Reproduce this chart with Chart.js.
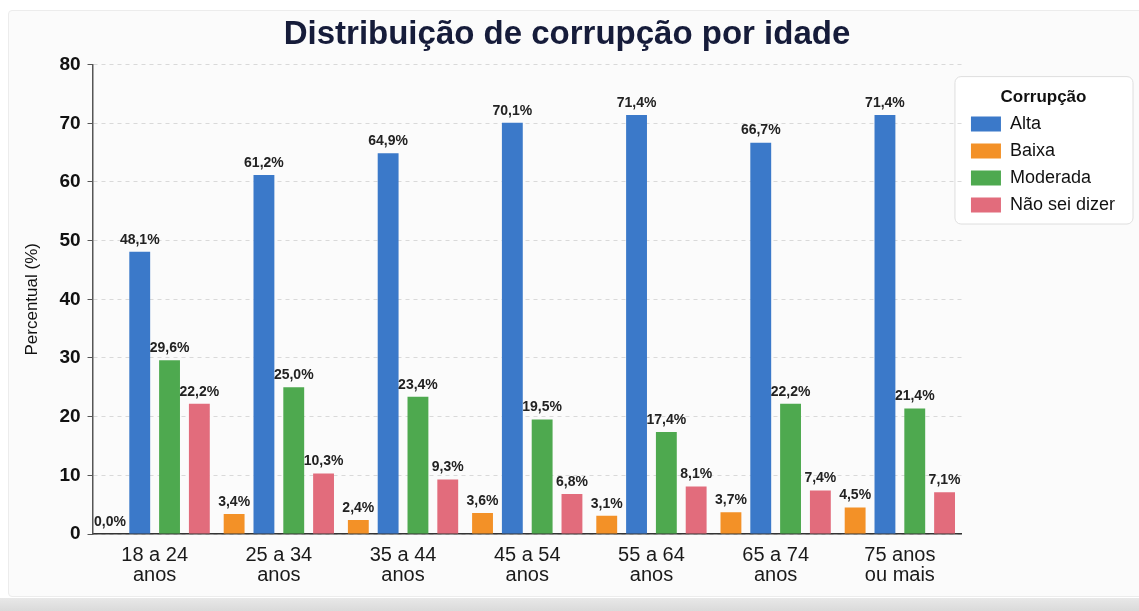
<!DOCTYPE html>
<html>
<head>
<meta charset="utf-8">
<script src="https://cdn.jsdelivr.net/npm/chart.js@4.4.1/dist/chart.umd.min.js"></script>
<style>
  html, body { margin: 0; padding: 0; background: #fff; }
  #wrap { position: relative; width: 1139px; height: 611px; overflow: hidden; }
  #card { position: absolute; left: 8px; top: 10px; width: 1135px; height: 587px;
          background: #fbfbfb; border: 1px solid #ececec; border-radius: 4px; box-sizing: border-box; }
  #shade { position: absolute; left: 0; right: 0; top: 598px; bottom: 0;
           background: linear-gradient(#e8e8e8, #dadada); }
  #grafico { position: absolute; left: 0; top: 0; }
</style>
</head>
<body>
<div id="wrap">
  <div id="card"></div>
  <div id="shade"></div>
  <canvas id="grafico" width="1139" height="611"></canvas>
</div>
<script>
const faixas = [
    ['18 a 24', 'anos'],
    ['25 a 34', 'anos'],
    ['35 a 44', 'anos'],
    ['45 a 54', 'anos'],
    ['55 a 64', 'anos'],
    ['65 a 74', 'anos'],
    ['75 anos', 'ou mais'],
];
const alta = [48.1, 61.2, 64.9, 70.1, 71.4, 66.7, 71.4];
const baixa = [0.0, 3.4, 2.4, 3.6, 3.1, 3.7, 4.5];
const moderada = [29.6, 25.0, 23.4, 19.5, 17.4, 22.2, 21.4];
const naoSei = [22.2, 10.3, 9.3, 6.8, 8.1, 7.4, 7.1];
const ordemLegenda = ['Alta', 'Baixa', 'Moderada', 'Não sei dizer'];

const fonte = '"Liberation Sans", Arial, Helvetica, sans-serif';

// rótulos de percentual em cima de cada barra
const rotulos = {
    id: 'rotulos',
    afterDatasetsDraw(chart) {
        const ctx = chart.ctx;
        ctx.save();
        ctx.font = `bold 14px ${fonte}`;
        ctx.fillStyle = '#222';
        ctx.textAlign = 'center';
        ctx.textBaseline = 'bottom';
        chart.data.datasets.forEach((ds, i) => {
            chart.getDatasetMeta(i).data.forEach((bar, j) => {
                const txt = ds.data[j].toFixed(1).replace('.', ',') + '%';
                ctx.fillText(txt, bar.x, bar.y - 5);
            });
        });
        ctx.restore();
    },
};

// moldura da legenda
const moldura = {
    id: 'moldura',
    beforeDraw(chart) {
        const lg = chart.legend;
        if (!lg || !lg.legendHitBoxes.length) {
            return;
        }
        const hb = lg.legendHitBoxes;
        const x0 = hb[0].left - 16;
        const x1 = Math.max(...hb.map((h) => h.left + h.width)) + 18;
        const y0 = lg.top + 12;
        const y1 = hb[hb.length - 1].top + hb[hb.length - 1].height + 10;
        const ctx = chart.ctx;
        ctx.save();
        ctx.beginPath();
        ctx.roundRect(x0, y0, x1 - x0, y1 - y0, 6);
        ctx.fillStyle = '#ffffff';
        ctx.fill();
        ctx.strokeStyle = '#dedede';
        ctx.lineWidth = 1;
        ctx.stroke();
        ctx.restore();
    },
};

new Chart(document.getElementById('grafico'), {
    type: 'bar',
    data: {
        labels: faixas,
        datasets: [
            { label: 'Baixa', data: baixa, backgroundColor: '#f39127', borderWidth: 0 },
            { label: 'Alta', data: alta, backgroundColor: '#3b79c9', borderWidth: 0 },
            { label: 'Moderada', data: moderada, backgroundColor: '#4ea94f', borderWidth: 0 },
            { label: 'Não sei dizer', data: naoSei, backgroundColor: '#e26c7c', borderWidth: 0 },
        ],
    },
    options: {
        responsive: false,
        animation: false,
        categoryPercentage: 0.96,
        barPercentage: 0.7,
        layout: { padding: { left: 9, right: 14, top: 0, bottom: 15 } },
        plugins: {
            title: {
                display: true,
                text: 'Distribuição de corrupção por idade',
                color: '#161c3a',
                font: { family: fonte, size: 33, weight: 'bold' },
                padding: { top: 15, bottom: 10 },
            },
            legend: {
                position: 'right',
                align: 'start',
                fullSize: false,
                title: {
                    display: true,
                    text: 'Corrupção',
                    color: '#111',
                    font: { family: fonte, size: 17, weight: 'bold' },
                    padding: { top: 24, bottom: -3 },
                },
                labels: {
                    boxWidth: 30,
                    boxHeight: 15,
                    padding: 9,
                    color: '#111',
                    font: { family: fonte, size: 18 },
                    sort: (a, b) => ordemLegenda.indexOf(a.text) - ordemLegenda.indexOf(b.text),
                },
            },
            tooltip: { enabled: false },
        },
        scales: {
            x: {
                grid: { display: false, drawTicks: false },
                border: { color: '#333', width: 1.5 },
                ticks: {
                    color: '#1a1a1a',
                    padding: 11,
                    maxRotation: 0,
                    font: { family: fonte, size: 20, lineHeight: 1.0 },
                },
            },
            y: {
                min: 0,
                max: 80,
                ticks: {
                    stepSize: 10,
                    color: '#111',
                    padding: 7,
                    font: { family: fonte, size: 19, weight: 'bold' },
                },
                grid: {
                    color: '#d9d9d9',
                    tickLength: 5,
                    tickColor: '#555',
                    tickBorderDash: [],
                },
                border: { color: '#555', width: 1.5, dash: [4, 4] },
                title: {
                    display: true,
                    text: 'Percentual (%)',
                    color: '#111',
                    font: { family: fonte, size: 17 },
                    padding: { top: 13, bottom: 10 },
                },
            },
        },
    },
    plugins: [rotulos, moldura],
});
</script>
</body>
</html>
